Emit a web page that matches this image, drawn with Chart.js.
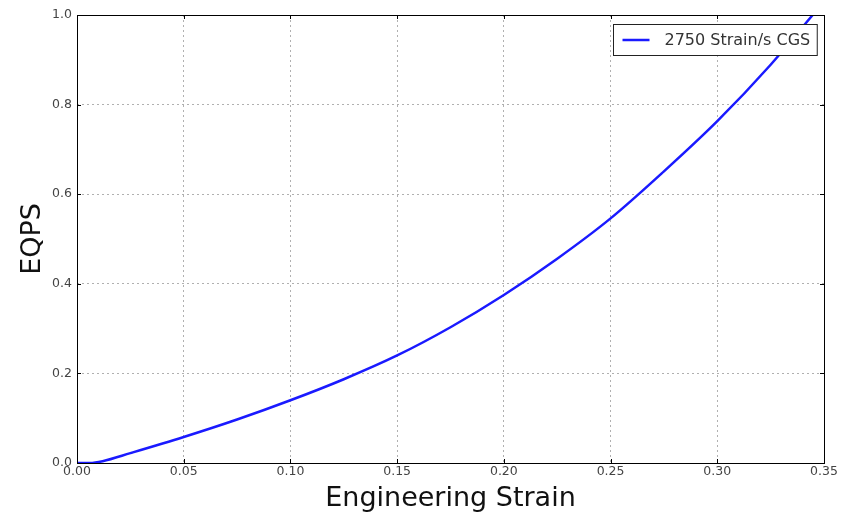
<!DOCTYPE html>
<html>
<head>
<meta charset="utf-8">
<script src="https://cdn.jsdelivr.net/npm/chart.js@4.4.0/dist/chart.umd.min.js"></script>
<style>
  html, body { margin: 0; padding: 0; background: #fff; }
  #wrap { width: 848px; height: 515px; }
</style>
</head>
<body>
<div id="wrap"><canvas id="chart"></canvas></div>
<script>
// engineering strain vs equivalent plastic strain
const strain = [0, 0.006, 0.012, 0.025, 0.05, 0.075, 0.1, 0.125, 0.15, 0.175, 0.2, 0.225, 0.25, 0.275, 0.3, 0.325, 0.3447];
const eqps = [0, 0, 0.004, 0.022, 0.058, 0.097, 0.140, 0.187, 0.240, 0.303, 0.375, 0.456, 0.546, 0.651, 0.763, 0.889, 1.0];
const seriesLabel = '2750 Strain/s CGS';
const xTicks = [0, 0.05, 0.10, 0.15, 0.20, 0.25, 0.30, 0.35];
const yTicks = [0, 0.2, 0.4, 0.6, 0.8, 1.0];

const FONT = 'DejaVu Sans';
const LINE_BLUE = '#1a1aff';

// frame around the plot plus inward tick marks
const framePlugin = {
  id: 'frame',
  afterDatasetsDraw(chart) {
    const { ctx, chartArea: a, scales } = chart;
    ctx.save();
    ctx.strokeStyle = '#000';
    ctx.lineWidth = 1;
    ctx.beginPath();
    xTicks.forEach((t) => {
      const px = Math.round(scales.x.getPixelForValue(t)) + 0.5;
      ctx.moveTo(px, a.bottom); ctx.lineTo(px, a.bottom - 4);
      ctx.moveTo(px, a.top); ctx.lineTo(px, a.top + 4);
    });
    yTicks.forEach((t) => {
      const py = Math.round(scales.y.getPixelForValue(t)) + 0.5;
      ctx.moveTo(a.left, py); ctx.lineTo(a.left + 4, py);
      ctx.moveTo(a.right, py); ctx.lineTo(a.right - 4, py);
    });
    ctx.stroke();
    ctx.strokeRect(Math.round(a.left) + 0.5, Math.round(a.top) + 0.5,
      Math.round(a.right - a.left), Math.round(a.bottom - a.top));
    ctx.restore();
  },
};

// boxed legend in the upper right corner of the plot
const legendPlugin = {
  id: 'boxLegend',
  afterDraw(chart) {
    const { ctx, chartArea: a } = chart;
    const ds = chart.data.datasets[0];
    ctx.save();
    ctx.font = `16px ${FONT}`;
    const textW = ctx.measureText(ds.label).width;
    const w = textW + 58;
    const h = 31;
    const x = Math.round(a.right - 7 - w) + 0.5;
    const y = Math.round(a.top + 9) + 0.5;
    ctx.fillStyle = '#fff';
    ctx.fillRect(x, y, w, h);
    ctx.strokeStyle = '#222';
    ctx.lineWidth = 1;
    ctx.strokeRect(x, y, w, h);
    ctx.strokeStyle = ds.borderColor;
    ctx.lineWidth = ds.borderWidth;
    ctx.beginPath();
    ctx.moveTo(x + 9, y + h / 2);
    ctx.lineTo(x + 36, y + h / 2);
    ctx.stroke();
    ctx.fillStyle = '#333';
    ctx.textBaseline = 'middle';
    ctx.fillText(ds.label, x + 51, y + h / 2 + 1);
    ctx.restore();
  },
};

new Chart(document.getElementById('chart'), {
  type: 'line',
  data: {
    datasets: [{
      label: seriesLabel,
      data: strain.map((x, i) => ({ x, y: eqps[i] })),
      borderColor: LINE_BLUE,
      borderWidth: 2.5,
      pointRadius: 0,
      cubicInterpolationMode: 'monotone',
      fill: false,
    }],
  },
  options: {
    responsive: true,
    maintainAspectRatio: false,
    animation: false,
    layout: { padding: { top: 15, right: 24, left: 0, bottom: 0 } },
    plugins: {
      legend: { display: false },
      tooltip: { enabled: false },
    },
    scales: {
      x: {
        type: 'linear',
        min: 0,
        max: 0.35,
        afterBuildTicks(scale) { scale.ticks = xTicks.map((value) => ({ value })); },
        afterFit(scale) { scale.height = 52; },
        ticks: {
          color: '#444',
          font: { family: FONT, size: 12.5 },
          padding: 1,
          callback: (v) => v.toFixed(2),
        },
        grid: { color: '#b0b0b0', drawTicks: false },
        border: { display: false, dash: [2, 3] },
        title: {
          display: true,
          text: 'Engineering Strain',
          color: '#111',
          font: { family: FONT, size: 27 },
          padding: { top: 0, bottom: 0 },
        },
      },
      y: {
        min: 0,
        max: 1.0,
        afterBuildTicks(scale) { scale.ticks = yTicks.map((value) => ({ value })); },
        afterFit(scale) { scale.width = 77; },
        ticks: {
          color: '#444',
          font: { family: FONT, size: 12.5 },
          padding: 5,
          callback: (v) => v.toFixed(1),
        },
        grid: { color: '#b0b0b0', drawTicks: false },
        border: { display: false, dash: [2, 3] },
        title: {
          display: true,
          text: 'EQPS',
          color: '#111',
          font: { family: FONT, size: 27 },
          padding: { top: 17, bottom: 0 },
        },
      },
    },
  },
  plugins: [framePlugin, legendPlugin],
});
</script>
</body>
</html>
